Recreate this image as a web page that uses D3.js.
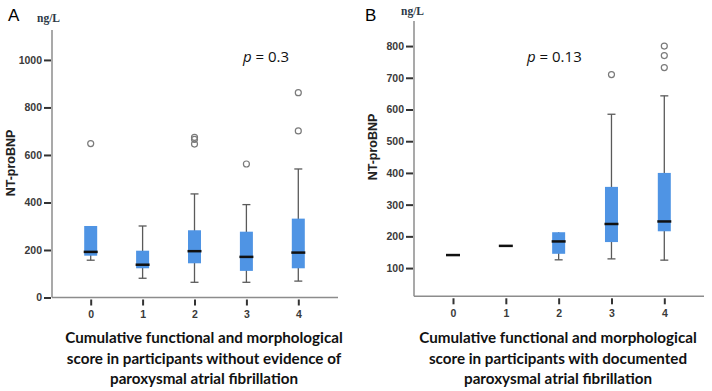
<!DOCTYPE html>
<html>
<head>
<meta charset="utf-8">
<script src="https://cdn.jsdelivr.net/npm/d3@7"></script>
<style>
  body { margin: 0; background: #fff; }
  svg { display: block; }
</style>
</head>
<body>
<div class="chart"></div>
<script>
// categories (cumulative score)
var scores = ["0", "1", "2", "3", "4"];

// panel A - without paroxysmal AF
var aLow = [157, 81, 64, 64, 69];
var aQ1 = [176, 123, 144, 112, 123];
var aMedian = [192, 138, 195, 171, 189];
var aQ3 = [301, 197, 283, 277, 332];
var aHigh = [301, 301, 436, 391, 541];
var aOutliers = [[648], [], [674, 666, 646], [562], [862, 701]];
var aTicks = [0, 200, 400, 600, 800, 1000];

// panel B - with documented paroxysmal AF
var bLow = [141, 170, 126, 129, 125];
var bQ1 = [141, 170, 145, 182, 216];
var bMedian = [141, 170, 184, 239, 247];
var bQ3 = [141, 170, 213, 356, 400];
var bHigh = [141, 170, 213, 585, 643];
var bOutliers = [[], [], [], [710], [800, 770, 732]];
var bTicks = [100, 200, 300, 400, 500, 600, 700, 800];

var svgWidth = 712;
var svgHeight = 391;

var svg = d3.select(".chart")
  .append("svg")
  .attr("width", svgWidth)
  .attr("height", svgHeight);

var boxColor = "#4f94e4";
var sansFont = "'Liberation Sans', Arial, sans-serif";

function drawPanel(p) {
  var g = svg.append("g");

  var y = d3.scaleLinear().domain(p.yDomain).range([p.bottom, p.top]);
  var x = d3.scalePoint().domain(scores).range(p.xRange);

  // axis lines
  g.append("line")
    .attr("x1", p.axisX).attr("x2", p.axisX)
    .attr("y1", p.top).attr("y2", p.bottom)
    .attr("stroke", "#8c8c8c").attr("stroke-width", 1.5);
  g.append("line")
    .attr("x1", p.axisX).attr("x2", p.axisRight)
    .attr("y1", p.bottom).attr("y2", p.bottom)
    .attr("stroke", "#8c8c8c").attr("stroke-width", 1.5);

  var leftAxis = d3.axisLeft(y).tickValues(p.ticks).tickFormat(d3.format("d"))
    .tickSize(7).tickPadding(2);
  var yAxisG = g.append("g")
    .attr("transform", `translate(${p.axisX - 1}, 0)`)
    .call(leftAxis);
  yAxisG.select(".domain").remove();

  var bottomAxis = d3.axisBottom(x).tickSize(6).tickPadding(5);
  var xAxisG = g.append("g")
    .attr("transform", `translate(0, ${p.bottom + 2})`)
    .call(bottomAxis);
  xAxisG.select(".domain").remove();

  g.selectAll(".tick line").attr("stroke", "#333").attr("stroke-width", 2);
  g.selectAll(".tick text")
    .attr("fill", "#3a3a3a")
    .style("font-family", sansFont)
    .style("font-size", "10.5px")
    .style("font-weight", "bold");

  var idx = d3.range(scores.length);
  var bw = 13;

  // whiskers
  g.selectAll(".whisk")
    .data(idx)
    .enter()
    .append("line")
    .attr("x1", i => x(scores[i])).attr("x2", i => x(scores[i]))
    .attr("y1", i => y(p.high[i])).attr("y2", i => y(p.low[i]))
    .attr("stroke", "#5a5a5a").attr("stroke-width", 1.3);

  [p.high, p.low].forEach(function (arr, k) {
    g.selectAll(".cap" + k)
      .data(idx.filter(i => k == 0 ? p.high[i] > p.q3[i] : p.low[i] < p.q1[i]))
      .enter()
      .append("line")
      .attr("x1", i => x(scores[i]) - 4).attr("x2", i => x(scores[i]) + 4)
      .attr("y1", i => y(arr[i])).attr("y2", i => y(arr[i]))
      .attr("stroke", "#5a5a5a").attr("stroke-width", 1.3);
  });

  // boxes
  g.selectAll(".box")
    .data(idx.filter(i => p.q3[i] > p.q1[i]))
    .enter()
    .append("rect")
    .attr("x", i => x(scores[i]) - bw / 2)
    .attr("width", bw)
    .attr("y", i => y(p.q3[i]))
    .attr("height", i => y(p.q1[i]) - y(p.q3[i]))
    .style("fill", boxColor);

  // medians
  g.selectAll(".med")
    .data(idx)
    .enter()
    .append("line")
    .attr("x1", i => x(scores[i]) - bw / 2 - 0.5).attr("x2", i => x(scores[i]) + bw / 2 + 0.5)
    .attr("y1", i => y(p.median[i])).attr("y2", i => y(p.median[i]))
    .attr("stroke", "#111").attr("stroke-width", 2.5);

  // outliers
  idx.forEach(function (i) {
    g.selectAll(".out" + i)
      .data(p.outliers[i])
      .enter()
      .append("circle")
      .attr("cx", x(scores[i]))
      .attr("cy", d => y(d))
      .attr("r", 3)
      .attr("fill", "none")
      .attr("stroke", "#7a7a7a")
      .attr("stroke-width", 1.2);
  });

  // panel letter
  g.append("text")
    .attr("x", p.letterX).attr("y", 21)
    .text(p.letter)
    .style("font-family", sansFont)
    .style("font-size", "17px");

  // unit label
  g.append("text")
    .attr("x", p.unitX).attr("y", p.unitY)
    .text("ng/L")
    .attr("fill", "#2c3846")
    .style("font-family", "'Liberation Serif', 'Times New Roman', serif")
    .style("font-size", "11.5px")
    .style("font-weight", "bold");

  // y label
  g.append("text")
    .attr("transform", `translate(${p.yLabelX}, ${p.yLabelY}) rotate(-90)`)
    .attr("text-anchor", "middle")
    .text("NT-proBNP")
    .attr("fill", "#222")
    .style("font-family", sansFont)
    .style("font-size", "12.5px")
    .style("font-weight", "bold");

  // p value
  var pt = g.append("text")
    .attr("x", p.pX).attr("y", 62)
    .style("font-family", "'Open Sans', sans-serif")
    .style("font-size", "15px")
    .attr("fill", "#111");
  pt.append("tspan").style("font-style", "italic").text("p");
  pt.append("tspan").text(" = " + p.pValue);

  // caption
  var cap = g.append("text")
    .attr("text-anchor", "middle")
    .attr("fill", "#111")
    .style("font-family", "Lato, sans-serif")
    .style("font-size", "15.2px")
    .style("font-weight", "bold");
  p.caption.forEach(function (line, k) {
    cap.append("tspan")
      .attr("x", p.capX)
      .attr("y", 343 + k * 20.5)
      .text(line);
  });
}

drawPanel({
  letter: "A", letterX: 8, unitX: 37, unitY: 22,
  yDomain: [0, 1126], top: 30, bottom: 297.5,
  xRange: [90.7, 298.3], axisX: 52, axisRight: 338,
  ticks: aTicks,
  low: aLow, q1: aQ1, median: aMedian, q3: aQ3, high: aHigh, outliers: aOutliers,
  yLabelX: 15, yLabelY: 163,
  pX: 243, pValue: "0.3",
  capX: 204,
  caption: ["Cumulative functional and morphological",
    "score in participants without evidence of",
    "paroxysmal atrial fibrillation"]
});

drawPanel({
  letter: "B", letterX: 365, unitX: 401, unitY: 15,
  yDomain: [11, 879], top: 21, bottom: 296.3,
  xRange: [453, 664.3], axisX: 414, axisRight: 704,
  ticks: bTicks,
  low: bLow, q1: bQ1, median: bMedian, q3: bQ3, high: bHigh, outliers: bOutliers,
  yLabelX: 377, yLabelY: 147,
  pX: 527, pValue: "0.13",
  capX: 558,
  caption: ["Cumulative functional and morphological",
    "score in participants with documented",
    "paroxysmal atrial fibrillation"]
});
</script>
</body>
</html>
